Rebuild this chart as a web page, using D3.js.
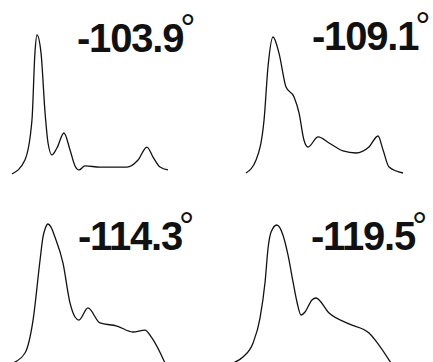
<!DOCTYPE html>
<html>
<head>
<meta charset="utf-8">
<script src="https://cdn.jsdelivr.net/npm/d3@7"></script>
<style>
  html, body { margin: 0; padding: 0; background: #fff; }
  svg { display: block; }
</style>
</head>
<body>
<svg id="chart" width="433" height="362"></svg>
<script>
// Spectra recorded at four angles; x = relative channel (0-100), y = relative intensity (0-100)
const angleLabels = ["-103.9", "-109.1", "-114.3", "-119.5"];

const spec1X = [0, 8.3, 12.8, 14.7, 16.0, 18.6, 21.2, 23.1, 25.6, 28.8, 33.3, 37.2, 40.4, 42.9, 46.8, 56.4, 73.7, 80.8, 86.5, 90.4, 94.9, 100];
const spec1Y = [0, 10.1, 38.8, 87.1, 100, 87.1, 43.9, 22.3, 13.7, 18.7, 29.5, 17.3, 5.8, 2.9, 5.8, 5.0, 5.0, 10.1, 19.4, 12.2, 5.0, 2.9];

const spec2X = [0, 6.4, 11.5, 14.0, 17.2, 21.0, 25.5, 30.6, 33.8, 36.9, 39.5, 45.9, 52.9, 61.8, 70.1, 78.3, 84.1, 87.3, 91.1, 100];
const spec2Y = [0, 9.6, 39.0, 77.9, 100, 88.2, 63.2, 55.9, 44.1, 24.3, 19.1, 26.5, 22.1, 16.2, 14.7, 19.1, 27.2, 16.9, 4.4, 0];

const spec3X = [0, 7.9, 13.2, 17.8, 19.7, 21.1, 23.0, 25.0, 27.6, 32.9, 37.5, 40.8, 43.4, 49.3, 57.2, 68.4, 78.9, 86.8, 91.4, 100];
const spec3Y = [0, 7.2, 30.9, 74.1, 90.6, 96.4, 100, 97.8, 90.6, 71.9, 43.2, 33.1, 30.9, 39.6, 28.8, 26.6, 22.3, 23.7, 18.0, 0];

const spec4X = [0, 6.3, 12.7, 17.1, 20.3, 22.2, 24.1, 27.7, 31.6, 34.8, 38.0, 40.5, 43.0, 45.6, 50.0, 52.5, 60.8, 73.4, 86.1, 90.5, 100];
const spec4Y = [0, 4.3, 14.5, 32.6, 58.7, 83.3, 94.9, 100, 92.8, 78.3, 58.7, 44.2, 34.8, 37.0, 45.7, 47.1, 36.2, 28.3, 21.7, 15.9, 0];

const seriesX = [spec1X, spec2X, spec3X, spec4X];
const seriesY = [spec1Y, spec2Y, spec3Y, spec4Y];

// Panel frames: pixel extent of each trace and where its label sits
const frames = [
  { x0: 12,  x1: 168, base: 174, top: 35,  lx: 77,  ly: 52 },
  { x0: 246, x1: 403, base: 173, top: 37,  lx: 312, ly: 50 },
  { x0: 13,  x1: 165, base: 363, top: 224, lx: 78,  ly: 250 },
  { x0: 233, x1: 391, base: 363, top: 225, lx: 311, ly: 250 }
];

const svg = d3.select("#chart");

frames.forEach((f, i) => {
  const x = d3.scaleLinear().domain([0, 100]).range([f.x0, f.x1]);
  const y = d3.scaleLinear().domain([0, 100]).range([f.base, f.top]);
  const pts = seriesX[i].map((v, k) => [v, seriesY[i][k]]);

  const line = d3.line()
    .x(d => x(d[0]))
    .y(d => y(d[1]))
    .curve(d3.curveMonotoneX);

  const g = svg.append("g");
  g.append("path")
    .datum(pts)
    .attr("d", line)
    .attr("fill", "none")
    .attr("stroke", "#111")
    .attr("stroke-width", 1.3)
    .attr("stroke-linejoin", "round");

  const t = g.append("text")
    .attr("x", f.lx)
    .attr("y", f.ly)
    .attr("font-family", "'Liberation Sans', Arial, sans-serif")
    .attr("font-weight", "bold")
    .attr("font-size", 40)
    .attr("letter-spacing", -1.2)
    .attr("fill", "#111");
  t.append("tspan").text(angleLabels[i]);
  t.append("tspan")
    .attr("dx", -3)
    .attr("dy", -11)
    .attr("font-weight", "normal")
    .attr("font-size", 38)
    .text("°");
});
</script>
</body>
</html>
